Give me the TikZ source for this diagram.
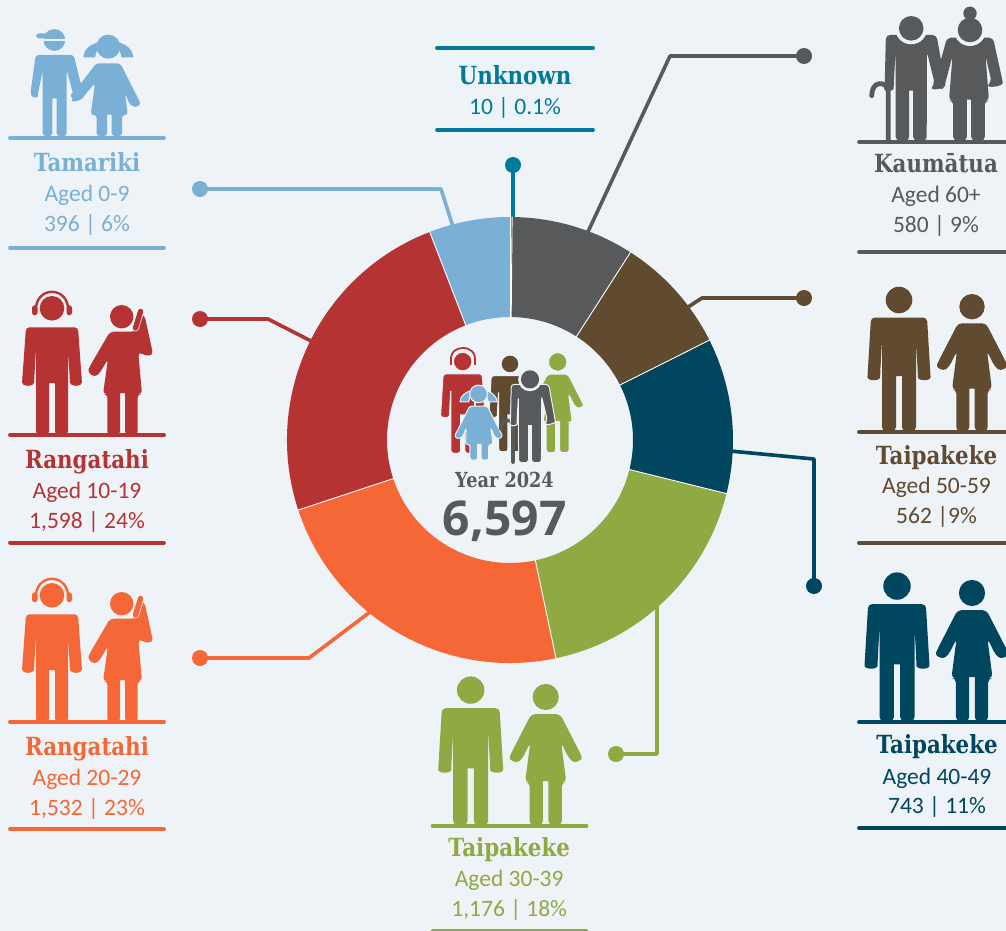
\documentclass[tikz,border=0pt]{standalone}
\usepackage{fontspec}
\setmainfont{Carlito}
\newfontfamily\slab[FakeStretch=0.855]{DejaVu Serif}
\newfontfamily\bignum{Open Sans}
\definecolor{bgc}{HTML}{EEF3F8}
\definecolor{cblue}{HTML}{7AAFD6}
\definecolor{cred}{HTML}{B53333}
\definecolor{corange}{HTML}{F56736}
\definecolor{cgray}{HTML}{58595B}
\definecolor{cbrown}{HTML}{604A30}
\definecolor{cnavy}{HTML}{00465F}
\definecolor{cgreen}{HTML}{8FAA43}
\definecolor{cteal}{HTML}{007A9A}
\tikzset{
  x=1pt,y=-1pt,
  figline/.style={},
  rule/.style={line width=3.8pt,line cap=round},
  ttl/.style={anchor=base,inner sep=0pt,font=\slab\bfseries\fontsize{25}{25}\selectfont},
  sub/.style={anchor=base,inner sep=0pt,font=\fontsize{23.5}{23.5}\selectfont},
  dot/.style={circle,inner sep=0pt,minimum size=16pt},
  conn/.style={line width=3.6pt,line join=round},
}
\newcommand\figman[4]{\begin{scope}[shift={(#1,#2)},scale=#3]
\pgfmathsetmacro\rr{#3*4}
\fill[#4,figline,rounded corners=\rr pt] (-28,-113.5)--(28,-113.5)--(31.3,-58) .. controls +(.5,8.3) and +(0,8.3) .. (18.8,-58) -- (17,-91) -- (17,0) -- (3,0) -- (3,-51) .. controls +(0,-4) and +(0,-4) .. (-3,-51) -- (-3,0)--(-17,0)--(-17,-91)--(-18.8,-58) .. controls +(0,8.3) and +(-.5,8.3) .. (-31.3,-58)--cycle;
\fill[#4,figline] (0,-131) circle[radius=13.3];
\end{scope}}
\newcommand\figwoman[4]{\begin{scope}[shift={(#1,#2)},scale=#3]
\pgfmathsetmacro\rr{#3*4}
\fill[#4,figline,rounded corners=\rr pt] (-14,-107.7)--(14,-107.7)--(33.4,-70) .. controls +(3,7) and +(6,5) .. (22.7,-64.5) -- (15,-80) -- (20,-41.5) -- (15.7,-41.5) -- (15.7,0) -- (2.7,0) -- (2.7,-38.5) .. controls +(0,-4) and +(0,-4) .. (-2.7,-38.5) -- (-2.7,0) -- (-15.7,0) -- (-15.7,-41.5) -- (-20,-41.5) -- (-15,-80) -- (-22.7,-64.5) .. controls +(-6,5) and +(-3,7) .. (-33.4,-70) -- cycle;
\fill[#4,figline] (0,-124.3) circle[radius=12.7];
\end{scope}}
\newcommand\headset[3]{% head x,y, colour
\draw[#3,line width=2.4pt] (#1-16,#2+3) .. controls (#1-17,#2-9) and (#1-9,#2-16.5) .. (#1,#2-16.5) .. controls (#1+9,#2-16.5) and (#1+17,#2-9) .. (#1+16,#2+3);
\fill[#3,rounded corners=2.7pt] (#1-20,#2-3) rectangle (#1-14.5,#2+7);
\fill[#3,rounded corners=2.7pt] (#1+14.5,#2-3) rectangle (#1+20,#2+7);
}
\newcommand\figteen[2]{% x, colour: man with headset, ground fixed via scope
\begin{scope}[shift={(#1,0)}]
\fill[#2,rounded corners=3.5pt] (-26,-107.7)--(26,-107.7)--(29.7,-56) .. controls +(.5,8) and +(0,8) .. (17.8,-56) -- (16,-86) -- (16,0) -- (3,0) -- (3,-48) .. controls +(0,-4) and +(0,-4) .. (-3,-48) -- (-3,0)--(-16,0)--(-16,-86)--(-17.8,-56) .. controls +(0,8) and +(-.5,8) .. (-29.7,-56)--cycle;
\fill[#2] (0,-126.7) circle[radius=12.3];
\headset{0}{-126.7}{#2}
\end{scope}}
\newcommand\figphone[2]{% x, colour; ground via scope
\begin{scope}[shift={(#1,0)}]
\fill[#2,rounded corners=3.5pt] (-13,-103.3)--(12,-103.3)--(17,-120) -- (21.5,-120) -- (28.7,-87) .. controls +(1.5,8) and +(7,4) .. (17,-82.5) -- (15.3,-82) -- (19,-41) -- (14.7,-41) -- (14.7,0) -- (2.2,0) -- (2.2,-38) .. controls +(0,-4) and +(0,-4) .. (-3,-38) -- (-3,0) -- (-15.7,0) -- (-15.7,-41) -- (-20,-41) -- (-15,-76) -- (-23.2,-62) .. controls +(-6,5) and +(-3,7) .. (-33,-69) -- cycle;
\draw[bgc,line width=7pt,line cap=round] (17.6,-123.5) -- (12.5,-107);
\draw[#2,line width=5.4pt,line cap=round] (17.6,-123.5) -- (12.5,-107);
\fill[#2] (-1.3,-118.3) circle[radius=11.7];
\end{scope}}
\newcommand\figboy[4]{\begin{scope}[shift={(#1,#2)},scale=#3]
\pgfmathsetmacro\rr{#3*3}
\fill[#4,rounded corners=\rr pt] (-19,-81)--(19,-81)--(28.4,-43) .. controls +(1.5,7) and +(-5,6) .. (19.4,-38.5) -- (12,-66) -- (12,0) -- (2,0) -- (2,-34) .. controls +(0,-4) and +(0,-4) .. (-2.4,-34) -- (-2.4,0) -- (-12,0) -- (-12,-66) -- (-16.6,-43) .. controls +(-.5,6) and +(.5,6) .. (-24,-44.5) -- cycle;
\fill[#4] (-.4,-96) circle[radius=10.9];
\fill[#4,rounded corners=\rr pt] (-18.7,-102.7) -- (0,-102.7) -- (0,-97.7) -- (-18.7,-97.7) -- cycle;
\fill[bgc] (-12,-97.3) rectangle (11.5,-95.4);
\end{scope}}
% left arm of the girl: reaching for the boy, or hanging free
\newcommand\girlreach{(-14.3,-53) -- (-27,-38) .. controls +(-6,5) and +(-7,4) .. (-35,-44)}
\newcommand\girlfree{(-17.7,-43) -- (-22.4,-31.5) .. controls +(-7,4) and +(-3,6) .. (-31,-37)}
\newcommand\figgirl[5]{\begin{scope}[shift={(#1,#2)},scale=#3]
\pgfmathsetmacro\rr{#3*3}
\fill[#4,figline] (-26,-78.7) .. controls (-26,-86) and (-19,-92) .. (-10,-94) -- (-14.3,-78.7) -- cycle;
\fill[#4,figline] (24,-78.7) .. controls (24,-86) and (17,-92) .. (8,-94) -- (12.3,-78.7) -- cycle;
\fill[#4,figline,rounded corners=\rr pt] (-13,-72.7)--(11,-72.7)--(29,-37) .. controls +(3,6) and +(7,4) .. (20.4,-31.5) -- (15.7,-43) -- (18.5,-21) -- (12.7,-21) -- (12.7,0) -- (2.4,0) -- (2.4,-18) .. controls +(0,-3.5) and +(0,-3.5) .. (-2.3,-18) -- (-2.3,0) -- (-12.6,0) -- (-12.6,-21) -- (-18.6,-21) -- #5 -- cycle;
\fill[#4,figline] (-1,-89.3) circle[radius=12];
\end{scope}}
\newcommand\figoldman[4]{\begin{scope}[shift={(#1,#2)},scale=#3]
\pgfmathsetmacro\rr{#3*4}
\draw[#4,line width=#3*4.8pt,line cap=round] (-23,-1) -- (-23,-50) .. controls (-23,-56) and (-28,-58.5) .. (-32,-58) .. controls (-37,-57.5) and (-39.5,-52) .. (-39.5,-46);
\fill[#4,figline,rounded corners=\rr pt] (-25.3,-106.7)--(25.3,-106.7)--(33.5,-61) .. controls +(1.5,8) and +(-6,8) .. (23.5,-58) -- (15.7,-90) -- (15.5,-1) -- (2,-1) -- (2,-47) .. controls +(0,-4) and +(0,-4) .. (-2,-47) -- (-2,-1) -- (-15.5,-1) -- (-15.7,-90) -- (-17.5,-57) .. controls +(0,7) and +(-1,7) .. (-26.5,-57) -- cycle;
\fill[bgc] (0,-113.4) circle[radius=16];
\fill[#4] (0,-113.4) circle[radius=12.3];
\end{scope}}
\newcommand\figoldwoman[4]{\begin{scope}[shift={(#1,#2)},scale=#3]
\pgfmathsetmacro\rr{#3*4}
\fill[#4,rounded corners=\rr pt] (-22,-104)--(24,-104)--(33,-63) .. controls +(1.5,8) and +(-7,7) .. (22.5,-60) -- (16.5,-86) -- (20,-41) -- (15.8,-41) -- (15.8,-1) -- (2.2,-1) -- (2.2,-38) .. controls +(0,-4) and +(0,-4) .. (-2.2,-38) -- (-2.2,-1) -- (-15.8,-1) -- (-15.8,-41) -- (-20,-41) -- (-16.5,-86) -- (-24,-57.5) .. controls +(-3,7) and +(2,7) .. (-33.5,-62) -- cycle;
\fill[bgc] (1,-111.7) circle[radius=16];
\fill[#4] (1,-111.7) circle[radius=12.3];
\fill[#4] (1,-128.4) circle[radius=6.7];
\end{scope}}
\newcommand\slice[3]{\fill[#3] (#1-90:223) arc[start angle=#1-90,end angle=#2-90,radius=223] -- (#2-90:123) arc[start angle=#2-90,end angle=#1-90,radius=123] -- cycle;}
\begin{document}
\begin{tikzpicture}
\useasboundingbox (0,0) rectangle (1006,931);
\fill[bgc] (0,0) rectangle (1006,931);
% connectors
\node[dot,fill=cblue] (dblue) at (200,189) {};
\node[dot,fill=cred] (dred) at (200,319) {};
\node[dot,fill=corange] (dorange) at (200,658) {};
\node[dot,fill=cteal] (dteal) at (513,165) {};
\node[dot,fill=cgray] (dgray) at (804,56) {};
\node[dot,fill=cbrown] (dbrown) at (804,298) {};
\node[dot,fill=cnavy] (dnavy) at (814,586) {};
\node[dot,fill=cgreen] (dgreen) at (616,754) {};
\coordinate (bblue) at (441,189); \coordinate (sblue) at (454,230);
\coordinate (bred) at (268,319); \coordinate (sred) at (315,343);
\coordinate (borange) at (309,658); \coordinate (sorange) at (374,609);
\coordinate (bgray) at (670,56); \coordinate (sgray) at (586,236);
\coordinate (bbrown) at (702,298); \coordinate (sbrown) at (685,309);
\coordinate (bnavy) at (814,459); \coordinate (snavy) at (730,451);
\coordinate (bgreen) at (657,754); \coordinate (sgreen) at (657,604);
\coordinate (steal) at (513,222);
\draw[conn,cblue] (dblue.center) -- (bblue) -- (sblue);
\draw[conn,cred] (dred.center) -- (bred) -- (sred);
\draw[conn,corange] (dorange.center) -- (borange) -- (sorange);
\draw[conn,cgray] (dgray.center) -- (bgray) -- (sgray);
\draw[conn,cbrown] (dbrown.center) -- (bbrown) -- (sbrown);
\draw[conn,cnavy] (dnavy.center) -- (bnavy) -- (snavy);
\draw[conn,cgreen] (dgreen.center) -- (bgreen) -- (sgreen);
\draw[conn,cteal] (dteal.center) -- (steal);
% donut
\begin{scope}[shift={(510,440)}]
\slice{0.55}{32.7}{cgray}
\slice{32.7}{63.4}{cbrown}
\slice{63.4}{103.9}{cnavy}
\slice{103.9}{168.1}{cgreen}
\slice{168.1}{251.7}{corange}
\slice{251.7}{338.9}{cred}
\slice{338.9}{360}{cblue}
\slice{0}{0.55}{cteal}
\foreach \a in {0,0.55,32.7,63.4,103.9,168.1,251.7,338.9}
  \draw[white,line width=.9pt] (\a-90:122.5) -- (\a-90:223.5);
\end{scope}
% centre group
\begin{scope}
\tikzset{figline/.style={draw=bgc,line width=1pt}}
\figman{462.7}{453.3}{.7}{cred}
\draw[cred,line width=1.8pt] (451,362) .. controls (450,352) and (456,348) .. (462.7,348) .. controls (470,348) and (476,352) .. (475,362);
\fill[cred] (449.5,358) rectangle (452,365); \fill[cred] (473.5,358) rectangle (476,365);
\figman{510}{451.7}{.67}{cbrown}
\figwoman{557.7}{452.7}{.73}{cgreen}
\figgirl{479.3}{460}{.74}{cblue}{\girlfree}
\figoldman{530}{463.3}{.74}{cgray}
\end{scope}
\node[ttl,text=cgray,font=\slab\bfseries\fontsize{20.7}{21}\selectfont] (year) at (504.5,487) {Year 2024};
\node[anchor=base,inner sep=0pt,text=cgray,font=\bignum\bfseries\fontsize{48}{48}\selectfont] (total) at (504.7,535) {6,597};
% Unknown
\draw[rule,cteal] (437,48) -- (593,48);
\draw[rule,cteal] (437,130) -- (593,130);
\node[ttl,text=cteal] (tunk) at (515,85) {Unknown};
\node[sub,text=cteal] (sunk) at (515,115) {10 | 0.1\%};
% Tamariki
\figboy{54.7}{136}{1}{cblue}
\figgirl{109.3}{136}{1}{cblue}{\girlreach}
\draw[rule,cblue] (10,137.7) -- (164,137.7);
\draw[rule,cblue] (10,247.7) -- (164,247.7);
\node[ttl,text=cblue] (t1) at (87,171) {Tamariki};
\node[sub,text=cblue] (a1) at (87,201) {Aged 0-9};
\node[sub,text=cblue] (n1) at (87,231.5) {396 | 6\%};
% Rangatahi red
\begin{scope}[shift={(0,435)}]
\figteen{52}{cred}
\figphone{123}{cred}
\end{scope}
\draw[rule,cred] (10,435) -- (164,435);
\draw[rule,cred] (10,542.7) -- (164,542.7);
\node[ttl,text=cred] (t2) at (87,468) {Rangatahi};
\node[sub,text=cred] (a2) at (87,498) {Aged 10-19};
\node[sub,text=cred] (n2) at (87,528) {1,598 | 24\%};
% Rangatahi orange
\begin{scope}[shift={(0,722)}]
\figteen{52}{corange}
\figphone{123}{corange}
\end{scope}
\draw[rule,corange] (10,722) -- (164,722);
\draw[rule,corange] (10,829) -- (164,829);
\node[ttl,text=corange] (t3) at (87,755) {Rangatahi};
\node[sub,text=corange] (a3) at (87,785) {Aged 20-29};
\node[sub,text=corange] (n3) at (87,815) {1,532 | 23\%};
% Kaumatua
\figoldman{911.2}{141.7}{1}{cgray}
\figoldwoman{969}{141.7}{1}{cgray}
\draw[rule,cgray] (859,141.7) -- (1010,141.7);
\draw[rule,cgray] (859,251.7) -- (1010,251.7);
\node[ttl,text=cgray] (t4) at (936,172.3) {Kaumātua};
\node[sub,text=cgray] (a4) at (936,202.7) {Aged 60+};
\node[sub,text=cgray] (n4) at (936,232.7) {580 | 9\%};
% Taipakeke brown
\figman{899}{431}{1}{cbrown}
\figwoman{972}{431}{1}{cbrown}
\draw[rule,cbrown] (859,431.7) -- (1010,431.7);
\draw[rule,cbrown] (859,542.7) -- (1010,542.7);
\node[ttl,text=cbrown] (t5) at (936.5,464) {Taipakeke};
\node[sub,text=cbrown] (a5) at (936.5,493.3) {Aged 50-59};
\node[sub,text=cbrown] (n5) at (936.5,523.3) {562 |9\%};
% Taipakeke navy
\figman{897}{721}{1.03}{cnavy}
\figwoman{972}{721}{1.03}{cnavy}
\draw[rule,cnavy] (859,722) -- (1010,722);
\draw[rule,cnavy] (859,828) -- (1010,828);
\node[ttl,text=cnavy] (t6) at (937,753) {Taipakeke};
\node[sub,text=cnavy] (a6) at (937,784) {Aged 40-49};
\node[sub,text=cnavy] (n6) at (937,813) {743 | 11\%};
% Taipakeke green
\figman{470.7}{825}{1.03}{cgreen}
\figwoman{545.7}{825}{1.03}{cgreen}
\draw[rule,cgreen] (432.5,825.7) -- (586.5,825.7);
\draw[rule,cgreen] (432.5,930.5) -- (586.5,930.5);
\node[ttl,text=cgreen] (t7) at (509.2,856.7) {Taipakeke};
\node[sub,text=cgreen] (a7) at (509.2,886.7) {Aged 30-39};
\node[sub,text=cgreen] (n7) at (509.2,916.7) {1,176 | 18\%};
\end{tikzpicture}
\end{document}
